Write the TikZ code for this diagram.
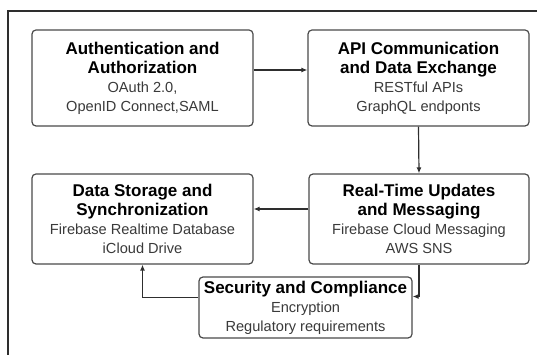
\documentclass[tikz,border=0pt]{standalone}
\usepackage{fontspec}
\setmainfont{Liberation Sans}
\definecolor{stageline}{HTML}{4A4A4A}
\definecolor{stagetext}{HTML}{3A3A3A}
\definecolor{frameline}{HTML}{2E2E2E}
\usetikzlibrary{arrows.meta}
\newcommand{\stagetitle}[1]{{\fontsize{17}{20}\selectfont\bfseries\color{black}#1}}
\tikzset{
    stagebox/.style={
        draw=stageline,
        fill=white,
        rounded corners=4pt,
        line width=1.2pt,
        minimum width=221pt,
        minimum height=96pt,
        inner sep=0pt,
        align=center,
        text=stagetext,
        font=\fontsize{14.6}{19}\selectfont
    },
    flowarrow/.style={
        -{Latex[length=6pt,width=5pt]},
        draw=frameline,
        line width=1.2pt
    }
}

\begin{document}
\begin{tikzpicture}[x=1pt,y=1pt]
    \useasboundingbox (0,0) rectangle (537,355);
    % open frame, only top and left edges show
    \draw[frameline,line width=1.3pt] (8,0) -- (8,344) -- (537,344);

    \node[stagebox] (auth) at (142.5,277)
        {\stagetitle{Authentication and}\\\stagetitle{Authorization}\\
         OAuth 2.0,\\OpenID Connect,SAML};
    \node[stagebox] (api) at (418.5,277)
        {\stagetitle{API Communication}\\\stagetitle{and Data Exchange}\\
         RESTful APIs\\GraphQL endponts};
    \node[stagebox,minimum height=90pt] (storage) at (142.5,136)
        {\stagetitle{Data Storage and}\\\stagetitle{Synchronization}\\
         Firebase Realtime Database\\iCloud Drive};
    \node[stagebox,minimum width=220pt,minimum height=90pt] (realtime) at (419,136)
        {\stagetitle{Real-Time Updates}\\\stagetitle{and Messaging}\\
         Firebase Cloud Messaging\\AWS SNS};
    \node[stagebox,minimum width=213pt,minimum height=61pt] (security) at (305.5,47.5)
        {\stagetitle{Security and Compliance}\\
         Encryption\\Regulatory requirements};

    \draw[flowarrow] ([yshift=8pt]auth.east) -- ([yshift=8pt]api.west);
    \draw[flowarrow] (api.south) -- (realtime.north);
    \draw[flowarrow] ([yshift=10pt]realtime.west) -- ([yshift=10pt]storage.east);
    \draw[flowarrow] (realtime.south) |- ([yshift=11pt]security.east);
    \draw[flowarrow] ([yshift=10pt]security.west) -| (storage.south);
\end{tikzpicture}
\end{document}
